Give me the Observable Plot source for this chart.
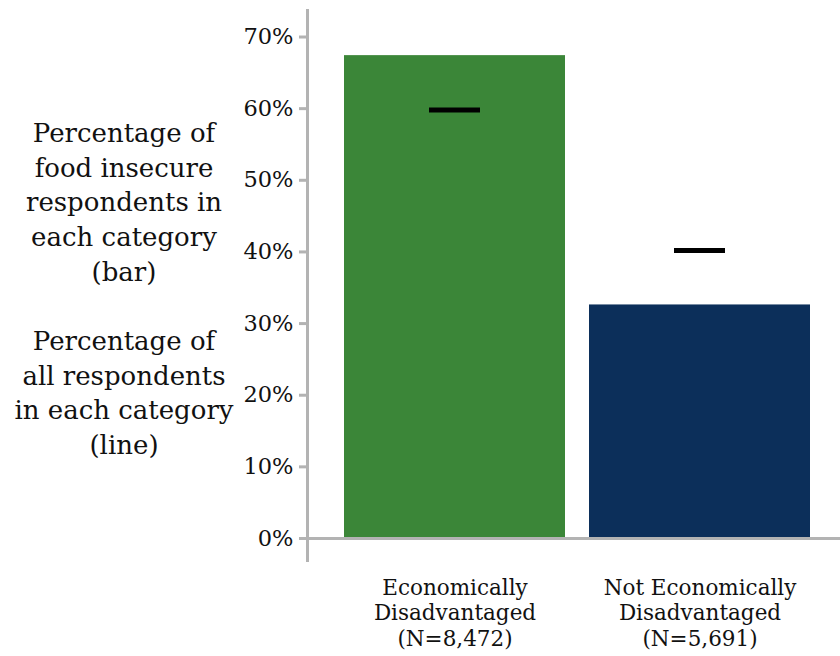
<!DOCTYPE html>
<html>
<head>
<meta charset="utf-8">
<script src="https://cdn.jsdelivr.net/npm/d3@7"></script>
<script src="https://cdn.jsdelivr.net/npm/@observablehq/plot@0.6"></script>
<style>
  html, body { margin: 0; padding: 0; background: #fff; }
  #wrap { position: relative; width: 840px; height: 656px; }
  .ylab { position: absolute; left: 0; width: 248px; text-align: center;
          font-family: "DejaVu Serif", serif; font-size: 26px; line-height: 34.7px; color: #111; }
</style>
</head>
<body>
<div id="wrap">
  <div id="chart"></div>
  <div class="ylab" style="top:116px">Percentage of<br>food insecure<br>respondents in<br>each category<br>(bar)</div>
  <div class="ylab" style="top:324px">Percentage of<br>all respondents<br>in each category<br>(line)</div>
</div>
<script>
const categories = ["Economically\nDisadvantaged\n(N=8,472)", "Not Economically\nDisadvantaged\n(N=5,691)"];
const foodInsecureShare = [0.674, 0.326];   // bars
const allRespondentShare = [0.598, 0.402];  // lines
const barColors = ["#3b8638", "#0c2f5a"];
const yTicks = [0, 0.1, 0.2, 0.3, 0.4, 0.5, 0.6, 0.7];

const data = categories.map((c, i) => ({cat: c, bar: foodInsecureShare[i], line: allRespondentShare[i], color: barColors[i]}));

const chart = Plot.plot({
  width: 840,
  height: 656,
  marginLeft: 307,
  marginRight: 0,
  marginTop: 10,
  marginBottom: 96,
  style: {fontFamily: "DejaVu Serif, serif", fontSize: "20px", color: "#111", background: "#fff"},
  x: {domain: categories, range: [307, 847], paddingInner: 0.1, paddingOuter: 0.15, label: null},
  y: {domain: [0, 0.737], range: [538, 10], label: null},
  marks: [
    Plot.barY(data, {x: "cat", y: "bar", fill: "color"}),
    Plot.tickY(data, {x: "cat", y: "line", stroke: "#000", strokeWidth: 5, insetLeft: 85, insetRight: 85}),
    Plot.ruleY([0], {stroke: "#b3b3b3", strokeWidth: 3}),
    Plot.frame({anchor: "left", stroke: "#b3b3b3", strokeWidth: 3}),
    Plot.axisY({ticks: yTicks, tickFormat: d3.format(".0%"), tickSize: 8, tickPadding: 6, stroke: "#b3b3b3", strokeWidth: 3, fontSize: 22.5, fill: "#111"}),
    Plot.axisX({tickSize: 0, tickPadding: 16, fontSize: 21.5, fill: "#111", lineHeight: 1.19})
  ]
});
document.getElementById("chart").appendChild(chart);
</script>
</body>
</html>
